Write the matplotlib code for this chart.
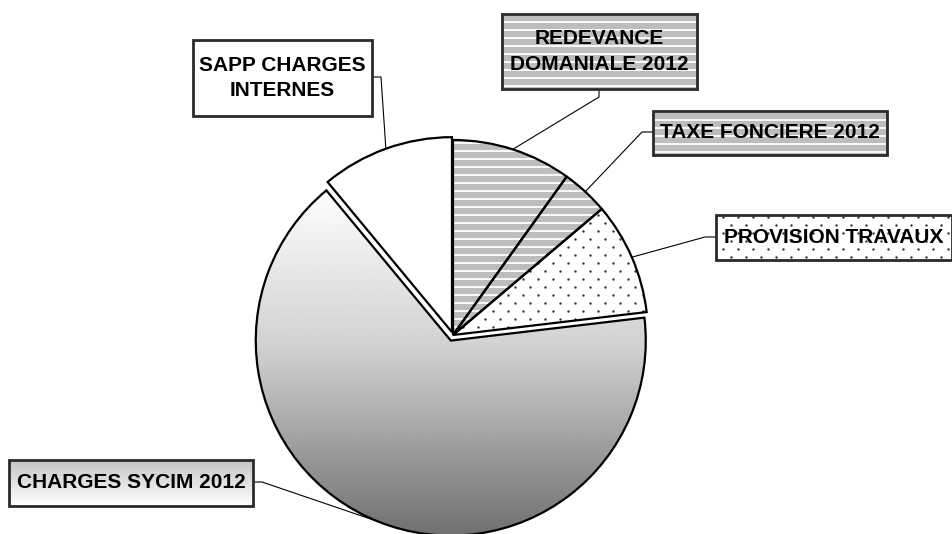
import numpy as np
import matplotlib
matplotlib.use("Agg")
import matplotlib.pyplot as plt
from matplotlib.patches import Rectangle, Wedge
from matplotlib.collections import LineCollection

# ------------------------------
# DATA (shares in %)
# ------------------------------
labels = ["REDEVANCE\nDOMANIALE 2012", "TAXE FONCIERE 2012", "PROVISION TRAVAUX",
          "CHARGES SYCIM 2012", "SAPP CHARGES\nINTERNES"]
shares = [9.9, 3.9, 9.3, 65.8, 11.0]
fills = ["stripes", "stripes", "dots", "gradient", "plain"]
explode = [0, 0, 0, 6, 3]  # pixels, pie radius is in pixels too

# label boxes (x0, y0, x1, y1) in pixel coords, y up, and leader elbows
boxes = [(502, 445, 697, 520), (653, 379, 887, 423), (716, 274, 952, 319),
         (9, 28, 253, 74), (193, 418, 372, 494)]
elbows = [[(599, 445), (599, 437)], [(653, 402), (642, 402)], [(716, 297), (705, 297)],
          [(253, 52), (262, 52)], [(372, 457), (381, 457)]]

W, H = 953, 534
CENTER = (453, 199)
RADIUS = 195

plt.rcParams['font.family'] = ['Liberation Sans', 'DejaVu Sans']

fig = plt.figure(figsize=(W / 100, H / 100), dpi=100)
ax = fig.add_axes([0, 0, 1, 1])


def stripes(ax, clip, z, x0, x1, y0, y1):
    ys = np.arange(y0, y1, 8.0)
    segs = [[(x0, y), (x1, y)] for y in ys]
    lc = LineCollection(segs, colors="white", linewidths=1.3, zorder=z)
    ax.add_collection(lc)
    lc.set_clip_path(clip)


def dots(ax, clip, z, x0, x1, y0, y1):
    pts = []
    for i, y in enumerate(np.arange(y0, y1, 8.0)):
        off = 0 if i % 2 == 0 else 7.5
        for x in np.arange(x0 + off, x1, 15.0):
            pts.append((x, y))
    pts = np.array(pts)
    sc = ax.scatter(pts[:, 0], pts[:, 1], s=3, c="#333333", linewidths=0, zorder=z)
    sc.set_clip_path(clip)


def gradient(ax, clip, z, x0, x1, y0, y1, ys, vals):
    yy = np.linspace(y1, y0, 300)
    g = np.interp(yy, ys, vals)[:, None] / 255.0
    im = ax.imshow(g, extent=[x0, x1, y0, y1], cmap="gray", vmin=0, vmax=1,
                   aspect="auto", interpolation="bilinear", zorder=z)
    im.set_clip_path(clip)


def paint(ax, patch, kind, x0, x1, y0, y1, grad=None):
    # patch holds the base fill, pattern goes just above it
    z = patch.get_zorder() + 0.1
    if kind == "stripes":
        patch.set_facecolor("#bdbdbd")
        stripes(ax, patch, z, x0, x1, y0, y1)
    elif kind == "dots":
        patch.set_facecolor("white")
        dots(ax, patch, z, x0, x1, y0, y1)
    elif kind == "gradient":
        patch.set_facecolor("white")
        gradient(ax, patch, z, x0, x1, y0, y1, *grad)
    else:
        patch.set_facecolor("white")
    patch.set_edgecolor("none")


wedges, _ = ax.pie(shares, radius=RADIUS, center=CENTER, startangle=90,
                   counterclock=False, explode=explode,
                   wedgeprops=dict(linewidth=0))

for w, kind in zip(wedges, fills):
    w.set_zorder(2)
    cx, cy = w.center
    paint(ax, w, kind, cx - RADIUS - 5, cx + RADIUS + 5, cy - RADIUS - 5, cy + RADIUS + 5,
          grad=([cy - RADIUS, cy - 0.05 * RADIUS, cy + 0.7 * RADIUS, cy + RADIUS],
                [112, 208, 250, 255]))
    ax.add_patch(Wedge(w.center, w.r, w.theta1, w.theta2, fill=False,
                       edgecolor="black", linewidth=1.6, zorder=3))

# label boxes and leader lines
for w, lab, kind, (x0, y0, x1, y1), elb in zip(wedges, labels, fills, boxes, elbows):
    rect = Rectangle((x0, y0), x1 - x0, y1 - y0, zorder=5)
    ax.add_patch(rect)
    paint(ax, rect, kind, x0, x1, y0 + 3, y1, grad=([y0, y1], [255, 196]))
    ax.add_patch(Rectangle((x0, y0), x1 - x0, y1 - y0, fill=False,
                           edgecolor="#2a2a2a", linewidth=2.0, zorder=5.5))
    ax.text((x0 + x1) / 2, (y0 + y1) / 2, lab, ha="center", va="center",
            fontsize=15, fontweight="bold", linespacing=1.4, zorder=6)

    mid = np.deg2rad((w.theta1 + w.theta2) / 2)
    cx, cy = w.center
    anchor = (cx + RADIUS * np.cos(mid), cy + RADIUS * np.sin(mid))
    xs = [p[0] for p in elb] + [anchor[0]]
    ys = [p[1] for p in elb] + [anchor[1]]
    ax.plot(xs, ys, color="black", linewidth=0.8, zorder=4)

ax.set_xlim(0, W)
ax.set_ylim(0, H)
ax.set_aspect("equal")
ax.axis("off")

fig.savefig("out.png", dpi=100)
